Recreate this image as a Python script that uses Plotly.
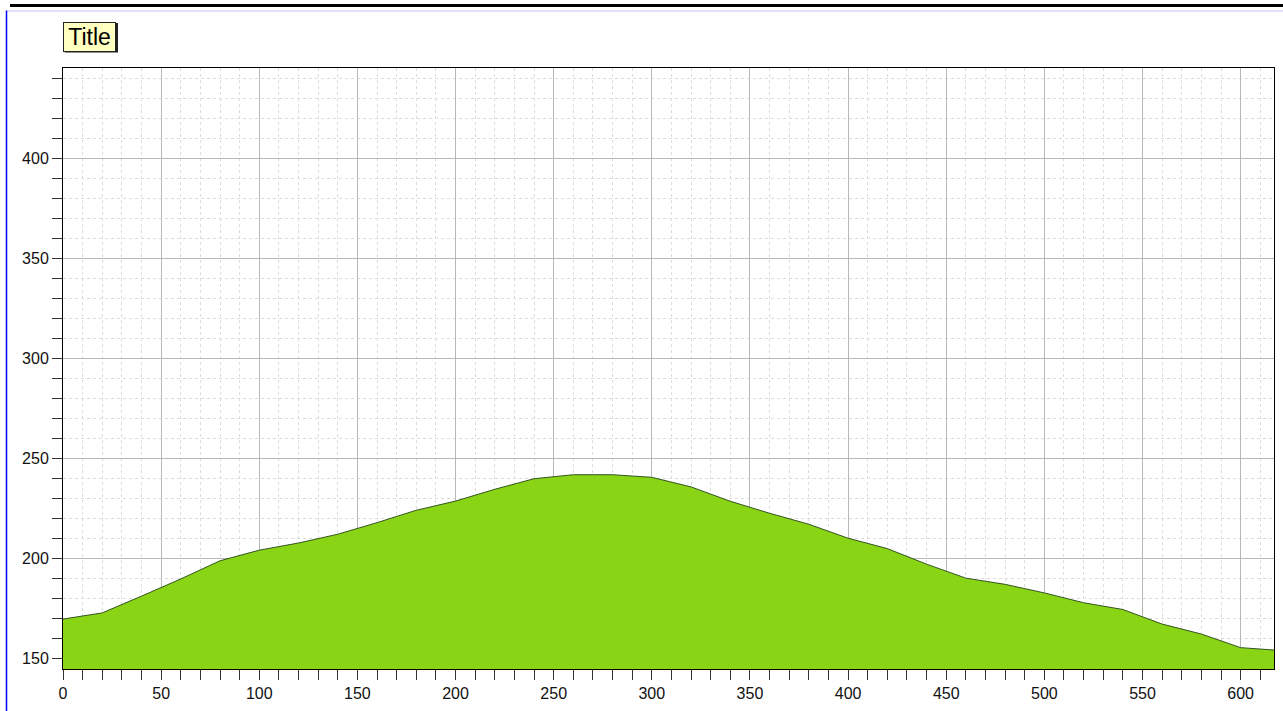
import plotly.graph_objects as go

# Elevation profile: distance along the route and height at each sample
distance = [0, 20, 40, 60, 80, 100, 120, 140, 160, 180, 200, 220, 240, 260, 280,
            300, 320, 340, 360, 380, 400, 420, 440, 460, 480, 500, 520, 540, 560,
            580, 600, 617]
height = [169.5, 172.6, 181.0, 189.6, 198.7, 204.0, 207.6, 212.0, 217.8, 224.0,
          228.6, 234.5, 239.8, 241.8, 241.8, 240.5, 235.7, 228.5, 222.5, 217.0,
          210.0, 204.8, 197.0, 190.0, 186.9, 182.6, 177.7, 174.3, 167.0, 162.0,
          155.2, 154.0]

X_RANGE = [0, 617]
Y_RANGE = [144.5, 445.5]

W, H = 1283, 711
ML, MR, MT, MB = 63, 9, 68, 42
PW, PH = W - ML - MR, H - MT - MB


def px(x):
    return (x - ML) / PW


def py(y):
    return (H - MB - y) / PH


fig = go.Figure()
fig.add_trace(go.Scatter(
    x=distance, y=height, mode="lines", fill="tozeroy",
    line=dict(color="#34541f", width=1),
    fillcolor="#88d415", hoverinfo="x+y", showlegend=False,
))

tick_font = dict(family="Liberation Sans, Arial, sans-serif", size=16, color="#111111")
axis_common = dict(
    showline=True, linecolor="#000000", linewidth=1, mirror=True,
    showgrid=True, gridcolor="#b8b8b8", gridwidth=1,
    ticks="outside", ticklen=10, tickcolor="#333333", tickwidth=1,
    tickfont=tick_font, zeroline=False,
)
minor_common = dict(dtick=10, ticks="outside", ticklen=10, tickcolor="#333333",
                    showgrid=True, gridcolor="#dcdcdc", griddash="dot")

fig.update_xaxes(range=X_RANGE, dtick=50, tick0=0, minor=minor_common, **axis_common)
fig.update_yaxes(range=Y_RANGE, dtick=50, tick0=0, minor=minor_common, **axis_common)

# Page frame: heavy rule across the top, thin blue rules down the left and along the top
shapes = [
    dict(type="line", xref="paper", yref="paper", x0=px(10), x1=px(1283), y0=py(5.5), y1=py(5.5),
         line=dict(color="#000000", width=3)),
    dict(type="line", xref="paper", yref="paper", x0=px(7), x1=px(1283), y0=py(11), y1=py(11),
         line=dict(color="#c4c4ff", width=1)),
    dict(type="line", xref="paper", yref="paper", x0=px(6.5), x1=px(6.5), y0=py(10.5), y1=py(711),
         line=dict(color="#0000ff", width=1.5)),
    # drop shadow behind the title box
    dict(type="rect", xref="paper", yref="paper", x0=px(65), x1=px(118), y0=py(23), y1=py(52.5),
         line=dict(width=0), fillcolor="#222222"),
]

fig.update_layout(
    width=W, height=H,
    margin=dict(l=ML, r=MR, t=MT, b=MB),
    paper_bgcolor="#ffffff", plot_bgcolor="#ffffff",
    shapes=shapes,
    annotations=[dict(
        text="Title", xref="paper", yref="paper", x=px(63.3), y=py(21.5),
        xanchor="left", yanchor="top", showarrow=False,
        width=47, height=24, align="center", valign="middle",
        font=dict(family="Liberation Sans, Arial, sans-serif", size=23, color="#000000"),
        bgcolor="#ffffc0", bordercolor="#222222", borderwidth=1, borderpad=2,
    )],
)

fig.write_html("out.html")
